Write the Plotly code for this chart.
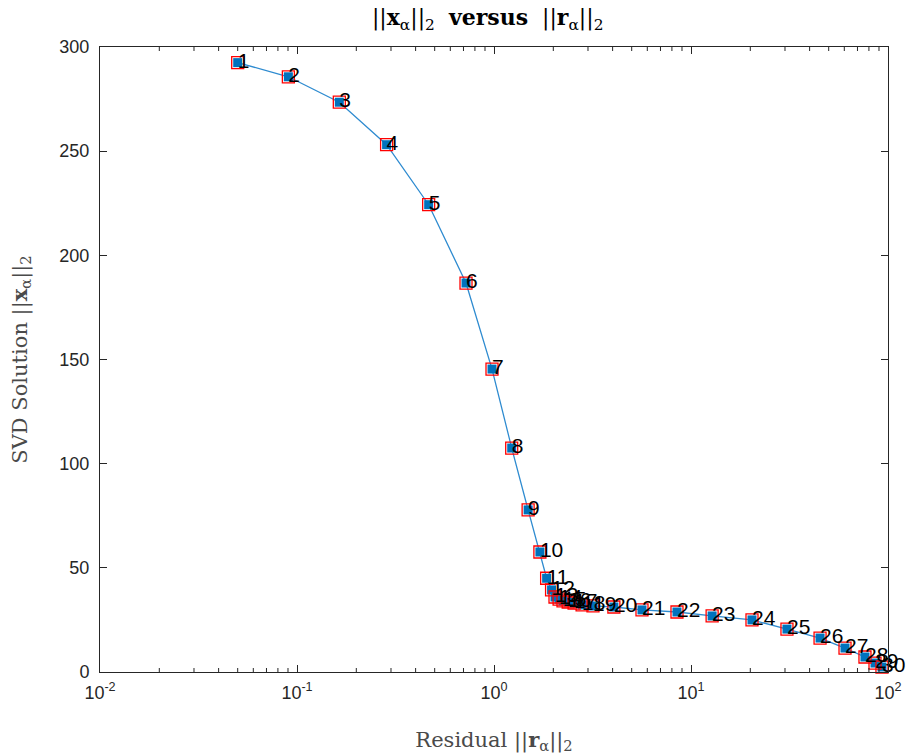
import plotly.graph_objects as go

# Residual norms ||r_alpha||_2 and solution norms ||x_alpha||_2
residual = [0.050, 0.0904, 0.164, 0.285, 0.466, 0.721, 0.977, 1.23, 1.49, 1.71,
            1.85, 1.96, 2.04, 2.14, 2.24, 2.38, 2.55, 2.80, 3.18, 4.06,
            5.64, 8.49, 12.8, 20.4, 30.7, 45.2, 60.5, 76.4, 85.9, 93.2]
solution = [292.5, 285.7, 273.5, 253.1, 224.3, 186.7, 145.4, 107.5, 77.8, 57.6,
            45.0, 39.4, 36.0, 35.0, 34.1, 33.6, 33.1, 32.2, 31.7, 31.2,
            29.8, 28.8, 26.9, 25.0, 20.6, 16.3, 11.5, 7.2, 4.3, 2.4]
labels = [str(i) for i in range(1, 31)]

xtick_vals = [0.01, 0.1, 1, 10, 100]
xtick_text = ["10<sup>-2</sup>", "10<sup>-1</sup>", "10<sup>0</sup>", "10<sup>1</sup>", "10<sup>2</sup>"]
xminor_vals = [m * d for d in [0.01, 0.1, 1, 10] for m in range(2, 10)]
ytick_vals = [0, 50, 100, 150, 200, 250, 300]

blue = "#0072BD"
axcol = "#262626"
serif = "DejaVu Serif, Liberation Serif, serif"
sans = "Liberation Sans, Arial"

fig = go.Figure()
fig.add_trace(go.Scatter(x=residual, y=solution, mode="lines+markers",
                         line=dict(color="#2E8BD0", width=1.3),
                         marker=dict(symbol="square", size=9, color=blue, line=dict(width=0)),
                         cliponaxis=False, showlegend=False, hoverinfo="skip"))
fig.add_trace(go.Scatter(x=residual, y=solution, mode="markers",
                         marker=dict(symbol="square-open", size=12, color="#FF0000",
                                     line=dict(width=1.3, color="#FF0000")),
                         cliponaxis=False, showlegend=False, hoverinfo="skip"))
fig.add_trace(go.Scatter(x=residual, y=solution, mode="text", text=labels,
                         textposition="middle right",
                         textfont=dict(family=sans, size=21, color="#000000"),
                         cliponaxis=False, showlegend=False, hoverinfo="skip"))

# minor log ticks (inside, bottom and top)
for v in xminor_vals:
    fig.add_shape(type="line", xref="x", yref="paper", x0=v, x1=v,
                  ysizemode="pixel", yanchor=0, y0=0, y1=4,
                  line=dict(color=axcol, width=1), layer="above")
    fig.add_shape(type="line", xref="x", yref="paper", x0=v, x1=v,
                  ysizemode="pixel", yanchor=1, y0=0, y1=-4,
                  line=dict(color=axcol, width=1), layer="above")

fig.update_layout(
    width=914, height=755,
    margin=dict(l=100, r=26, t=47, b=83),
    paper_bgcolor="white", plot_bgcolor="white",
    title=dict(text="||<b>x</b><sub>α</sub>||<sub>2</sub>  <b>versus</b>  ||<b>r</b><sub>α</sub>||<sub>2</sub>",
               x=0.492, xanchor="center", xref="paper", y=0.977, yanchor="middle",
               font=dict(family=serif, size=22, color="#000000")),
    xaxis=dict(type="log", range=[-2, 2], tickvals=xtick_vals, ticktext=xtick_text,
               showgrid=False, zeroline=False, showline=True, linecolor=axcol, linewidth=1,
               mirror="ticks", ticks="inside", ticklen=7, tickcolor=axcol,
               tickfont=dict(family=sans, size=18, color=axcol),
               ticklabelstandoff=4, automargin=False,
               title=dict(text="Residual ||<b>r</b><sub>α</sub>||<sub>2</sub>", standoff=30,
                          font=dict(family=serif, size=21, color="#4a4a4a"))),
    yaxis=dict(range=[0, 300], tickvals=ytick_vals,
               showgrid=False, zeroline=False, showline=True, linecolor=axcol, linewidth=1,
               mirror="ticks", ticks="inside", ticklen=7, tickcolor=axcol,
               tickfont=dict(family=sans, size=18, color=axcol),
               ticklabelstandoff=6, automargin=False,
               title=dict(text="SVD Solution ||<b>x</b><sub>α</sub>||<sub>2</sub>", standoff=26,
                          font=dict(family=serif, size=21, color="#4a4a4a"))),
)

fig.write_html("out.html")
